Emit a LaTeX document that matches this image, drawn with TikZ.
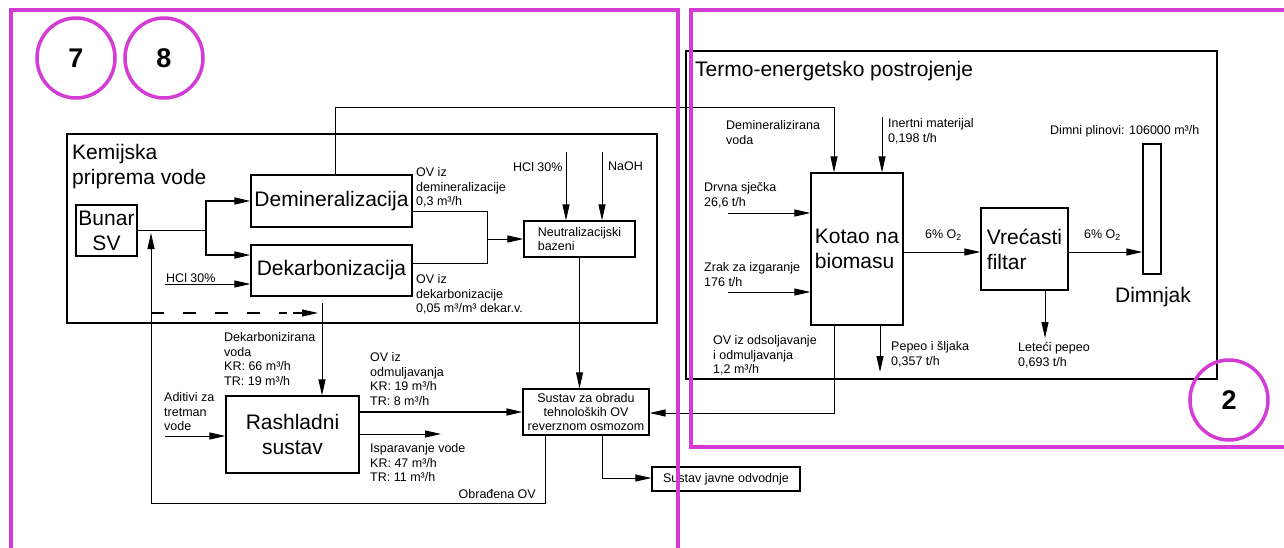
\documentclass[tikz,border=0pt]{standalone}
\usepackage{fontspec}
\setmainfont{Liberation Sans}
\usetikzlibrary{arrows.meta,shapes.geometric}
\definecolor{mag}{RGB}{212,58,212}
\begin{document}
\begin{tikzpicture}[x=1pt,y=-1pt,
  box/.style={draw=black, line width=1.2pt, inner sep=0pt, rectangle},
  big/.style={font=\fontsize{21}{25}\selectfont},
  sm/.style={font=\fontsize{12.5}{14.8}\selectfont},
  lbl/.style={sm, anchor=north west, inner sep=0pt, align=left},
  arr/.style={-{Triangle[length=16pt,width=7pt]}, line width=1pt},
  thk/.style={line width=1.6pt},
  thn/.style={line width=0.8pt},
  frame/.style={draw=mag, line width=4pt},
  badge/.style={ellipse, draw=mag, line width=3.5pt, font=\fontsize{27}{30}\selectfont\bfseries, inner sep=0pt, minimum width=78pt, minimum height=80pt}
]
\useasboundingbox (0,0) rectangle (1284,548);

% ---------- boxes ----------
\node[box, minimum width=590pt, minimum height=189pt] (kem) at (362,228.5) {};
\node[lbl, big] (kemlbl) at (72,144) {Kemijska\\priprema vode};
\node[box, big, align=center, minimum width=61pt, minimum height=51pt] (bunar) at (106.5,230.5) {Bunar\\SV};
\node[box, big, minimum width=161pt, minimum height=52pt] (demi) at (331.5,201) {Demineralizacija};
\node[box, big, minimum width=161pt, minimum height=51pt] (dekarb) at (331.5,270.5) {Dekarbonizacija};
\node[box, sm, align=left, minimum width=111pt, minimum height=36pt] (neut) at (579.5,239) {Neutralizacijski\\bazeni};
\node[box, big, align=center, minimum width=133pt, minimum height=77pt] (rash) at (292.5,434.5) {Rashladni\\sustav};
\node[box, font=\fontsize{12.5}{14.2}\selectfont, align=center, minimum width=126pt, minimum height=46pt] (sustav) at (586,412) {Sustav za obradu\\tehnoloških OV\\reverznom osmozom};
\node[box, sm, minimum width=148pt, minimum height=24pt] (javne) at (726,479) {Sustav javne odvodnje};

\node[box, minimum width=531pt, minimum height=328pt] (termo) at (951.5,215) {};
\node[lbl, big] (termolbl) at (695,61) {Termo-energetsko postrojenje};
\node[box, big, align=left, minimum width=92pt, minimum height=152pt] (kotao) at (857,249) {Kotao na\\biomasu};
\node[box, big, align=left, minimum width=87pt, minimum height=82pt] (vrec) at (1024.5,249) {Vrećasti\\filtar};
\node[box, minimum width=18pt, minimum height=130pt] (dimnjak) at (1152,209) {};
\node[big, anchor=north, inner sep=0pt] (dimlbl) at (1153,287) {Dimnjak};

% ---------- labels ----------
\node[lbl] (l1) at (416,167) {OV iz\\demineralizacije\\0,3 m³/h};
\node[lbl] (l2) at (416,274) {OV iz\\dekarbonizacije\\0,05 m³/m³ dekar.v.};
\node[lbl] (l3) at (513,162) {HCl 30\%};
\node[lbl] (l4) at (608,162) {NaOH};
\node[lbl] (l5) at (166,273) {HCl 30\%};
\node[lbl] (l6) at (224,332) {Dekarbonizirana\\voda\\KR: 66 m³/h\\TR: 19 m³/h};
\node[lbl] (l7) at (164,392) {Aditivi za\\tretman\\vode};
\node[lbl] (l8) at (370,352) {OV iz\\odmuljavanja\\KR: 19 m³/h\\TR: 8 m³/h};
\node[lbl] (l9) at (370,443) {Isparavanje vode\\KR: 47 m³/h\\TR: 11 m³/h};
\node[sm, anchor=north east, inner sep=0pt] (l10) at (536,489) {Obrađena OV};
\node[lbl] (r1) at (726,120) {Demineralizirana\\voda};
\node[lbl] (r2) at (888,118) {Inertni materijal\\0,198 t/h};
\node[lbl] (r3) at (1050,125) {Dimni plinovi: 106000 m³/h};
\node[lbl] (r4) at (704,182) {Drvna sječka\\26,6 t/h};
\node[lbl] (r5) at (704,262) {Zrak za izgaranje\\176 t/h};
\node[lbl] (r6) at (925,230) {6\% O\textsubscript{2}};
\node[lbl] (r7) at (1084,230) {6\% O\textsubscript{2}};
\node[lbl] (r8) at (1018,342) {Leteći pepeo\\0,693 t/h};
\node[lbl] (r9) at (891,341) {Pepeo i šljaka\\0,357 t/h};
\node[lbl] (r10) at (713,335) {OV iz odsoljavanje\\i odmuljavanja\\1,2 m³/h};

% ---------- coordinates ----------
\coordinate (split) at (206,230.5);
\coordinate (hclS) at (165,284);
\coordinate (ob) at (545,503);
\coordinate (ret) at (151,233);
\coordinate (dsh) at (151,313);
\coordinate (dshM) at (287,313);
\coordinate (dshA) at (293,313);
\coordinate (dshE) at (318,313);
\coordinate (dv) at (322,303);
\coordinate (m1) at (487,211);
\coordinate (m2) at (487,263);
\coordinate (m3) at (487,239);
\coordinate (hclN) at (566,152);
\coordinate (naoh) at (602,152);
\coordinate (adS) at (165,436);
\coordinate (ispE) at (441,434);
\coordinate (sj) at (602,478);
\coordinate (t1) at (335,108);
\coordinate (t2) at (834,108);
\coordinate (inr) at (882,117);
\coordinate (drv) at (728,213);
\coordinate (zrk) at (728,292);
\coordinate (lp) at (1045,338);
\coordinate (pp) at (880,372);
\coordinate (od) at (834,413);

% ---------- connectors (left) ----------
\draw[thk] (bunar.east) -- (split);
\draw[arr, thk] (split) |- (demi.west);
\draw[arr, thk] (split) |- ([yshift=15.5pt]dekarb.west);
\draw[arr] (hclS) -- (hclS -| dekarb.west);
\draw[arr] (sustav.south -| ob) -- (ob) -| (ret);
\draw[dash pattern=on 13pt off 19pt, line width=1.1pt] (dsh) -- (dshM);
\draw[arr, line width=1.1pt] (dshA) -- (dshE);
\draw[arr] (dv) -- (dv |- rash.north);
\draw[thn] (m1 -| demi.east) -- (m1) -- (m2) -- (m2 -| dekarb.east);
\draw[arr] (m3) -- (m3 -| neut.west);
\draw[arr] (hclN) -- (hclN |- neut.north);
\draw[arr] (naoh) -- (naoh |- neut.north);
\draw[arr, thn] (neut.south) -- (neut.south |- sustav.north);
\draw[arr] (adS) -- (adS -| rash.west);
\draw[arr, thk] (sustav.west -| rash.east) -- (sustav.west);
\draw[arr] (ispE -| rash.east) -- (ispE);
\draw[arr, thn] (sustav.south -| sj) -- (sj) -- (sj -| javne.west);

% ---------- connectors (right) ----------
\draw[arr] (demi.north -| t1) -- (t1) -- (t2) -- (t2 |- kotao.north);
\draw[arr] (inr) -- (inr |- kotao.north);
\draw[arr] (drv) -- (drv -| kotao.west);
\draw[arr] (zrk) -- (zrk -| kotao.west);
\draw[arr] ([yshift=-3pt]kotao.east) -- ([yshift=-3pt]vrec.west);
\draw[arr] ([yshift=-3pt]vrec.east) -- ([yshift=-3pt]vrec.east -| dimnjak.west);
\draw[arr] (vrec.south -| lp) -- (lp);
\draw[arr] (kotao.south -| pp) -- (pp);
\draw[arr] (kotao.south -| od) -- (od) -- (od -| sustav.east);

% ---------- magenta frames and badges ----------
\draw[frame] (11,548) -- (11,10) -- (678,10) -- (678,548);
\draw[frame] (1284,10.5) -- (691,10.5) -- (691,447) -- (1284,447);
\node[badge] (b7) at (76,58) {7};
\node[badge] (b8) at (164,58) {8};
\node[badge] (b2) at (1229,400) {2};
\end{tikzpicture}
\end{document}
